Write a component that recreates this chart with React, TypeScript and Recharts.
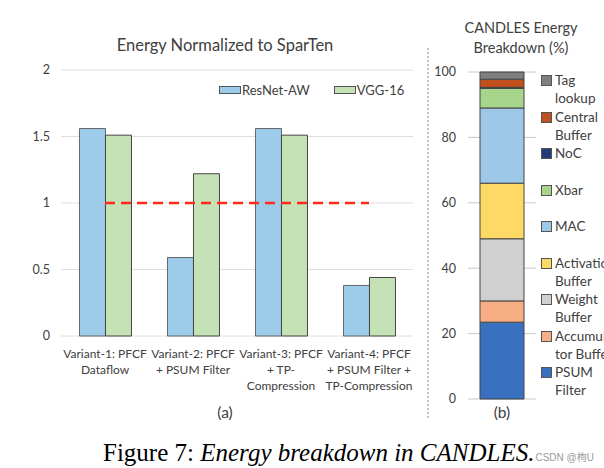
import { Bar, BarChart, CartesianGrid, Legend, ReferenceLine, XAxis, YAxis } from 'recharts'

// (a) energy normalized to SparTen
const VARIANTS = ['Variant-1', 'Variant-2', 'Variant-3', 'Variant-4']
const VARIANT_LABELS = [
  ['Variant-1: PFCF', 'Dataflow'],
  ['Variant-2: PFCF', '+ PSUM Filter'],
  ['Variant-3: PFCF', '+ TP-', 'Compression'],
  ['Variant-4: PFCF', '+ PSUM Filter +', 'TP-Compression'],
]
const RESNET_AW = [1.56, 0.59, 1.56, 0.38]
const VGG_16 = [1.51, 1.22, 1.51, 0.44]
const SPARTEN_BASELINE = 1
const ENERGY_TICKS = [0, 0.5, 1, 1.5, 2]

// (b) CANDLES breakdown, bottom of stack first
const COMPONENTS = ['psum', 'accum', 'weight', 'activation', 'mac', 'xbar', 'noc', 'central', 'tag']
const COMPONENT_NAMES = [
  ['PSUM', 'Filter'],
  ['Accumula', 'tor Buffer'],
  ['Weight', 'Buffer'],
  ['Activation', 'Buffer'],
  ['MAC'],
  ['Xbar'],
  ['NoC'],
  ['Central', 'Buffer'],
  ['Tag', 'lookup'],
]
const SHARES = [23.5, 6.5, 19, 17, 23, 6, 0.3, 2.5, 2.2]
const SHARE_TICKS = [0, 20, 40, 60, 80, 100]

const COMP_COLORS = ['#3a70c0', '#f8ae84', '#d0d0d0', '#ffd966', '#9dc8e8', '#a8d58c', '#1f3c78', '#c0501e', '#7f7f7f']
const RESNET_COLOR = '#9dcbea'
const VGG_COLOR = '#c5e2b6'
const TEXT = '#404040'
const FONT = 'Lato, "Open Sans", sans-serif'

const energyData = VARIANTS.map((v, i) => ({ variant: v, resnet: RESNET_AW[i], vgg: VGG_16[i] }))
const shareRow: Record<string, number | string> = { name: 'CANDLES' }
COMPONENTS.forEach((c, i) => { shareRow[c] = SHARES[i] })

function VariantTick({ x, y, payload }: any) {
  const lines = VARIANT_LABELS[VARIANTS.indexOf(payload.value)] || []
  return (
    <text x={x} y={y} textAnchor="middle" fontSize={12} fill={TEXT} fontFamily={FONT}>
      {lines.map((l, i) => (
        <tspan key={i} x={x} dy={i === 0 ? 14 : 16}>{l}</tspan>
      ))}
    </text>
  )
}

function EnergyLegend() {
  const items = [
    { label: 'ResNet-AW', color: RESNET_COLOR },
    { label: 'VGG-16', color: VGG_COLOR },
  ]
  return (
    <div style={{ display: 'flex', gap: 24, fontFamily: FONT, fontSize: 13, color: TEXT, lineHeight: '16px' }}>
      {items.map((it) => (
        <div key={it.label} style={{ display: 'flex', alignItems: 'center' }}>
          <span style={{ width: 20, height: 6, background: it.color, border: '1px solid #555', marginRight: 1 }} />
          <span>{it.label}</span>
        </div>
      ))}
    </div>
  )
}

function ShareLegend() {
  const order = COMPONENTS.map((_, i) => i).reverse()
  return (
    <div style={{ fontFamily: FONT, fontSize: 13.5, color: TEXT, lineHeight: '18px', whiteSpace: 'nowrap' }}>
      {order.map((i) => (
        <div key={COMPONENTS[i]} style={{ height: 36.5, display: 'flex', alignItems: 'flex-start' }}>
          <span style={{ width: 9, height: 9, marginTop: 4, marginRight: 3, background: COMP_COLORS[i], border: '1px solid #555', flexShrink: 0 }} />
          <span>
            {COMPONENT_NAMES[i].map((l, k) => (
              <div key={k}>{l}</div>
            ))}
          </span>
        </div>
      ))}
    </div>
  )
}

const centered = (x: number, y: number, size: number, w = 300): React.CSSProperties => ({
  position: 'absolute',
  left: x - w / 2,
  top: y - 10,
  width: w,
  lineHeight: '20px',
  textAlign: 'center',
  fontFamily: FONT,
  fontSize: size,
  color: TEXT,
  whiteSpace: 'nowrap',
})

export default function App() {
  return (
    <div style={{ position: 'absolute', left: 0, top: 0, width: 604, height: 468, overflow: 'hidden', background: '#fff' }}>
      <div style={centered(225, 45, 16.5)}>Energy Normalized to SparTen</div>
      <div style={centered(521, 28, 14.5, 200)}>CANDLES Energy</div>
      <div style={centered(521, 48, 14.5, 200)}>Breakdown (%)</div>
      <div style={centered(225, 412, 15.5, 60)}>(a)</div>
      <div style={centered(502, 412, 15.5, 60)}>(b)</div>

      <div style={{ position: 'absolute', left: 0, top: 0 }}>
        <BarChart width={428} height={468} data={energyData} margin={{ top: 70, right: 15, bottom: 72, left: 0 }} barCategoryGap="21%" barGap={0}>
          <CartesianGrid vertical={false} stroke="#dedede" />
          <XAxis dataKey="variant" axisLine={false} tickLine={false} tickSize={0} tickMargin={8} height={60} interval={0} tick={<VariantTick />} />
          <YAxis domain={[0, 2]} ticks={ENERGY_TICKS} width={61} axisLine={false} tickLine={false} tickSize={0} tickMargin={11}
            tick={{ fontSize: 12.5, fill: TEXT, fontFamily: FONT }} />
          <Legend layout="horizontal" verticalAlign="middle" align="center" content={<EnergyLegend />}
            wrapperStyle={{ top: 82, left: 219, width: 200 }} />
          <Bar dataKey="resnet" name="ResNet-AW" fill={RESNET_COLOR} stroke="#666" strokeWidth={1} isAnimationActive={false} />
          <Bar dataKey="vgg" name="VGG-16" fill={VGG_COLOR} stroke="#444" strokeWidth={1} isAnimationActive={false} />
          <ReferenceLine segment={[{ x: 'Variant-1', y: SPARTEN_BASELINE }, { x: 'Variant-4', y: SPARTEN_BASELINE }]}
            stroke="#ff2a1a" strokeWidth={2.5} strokeDasharray="10 6" ifOverflow="visible" />
        </BarChart>
      </div>

      <div style={{ position: 'absolute', left: 427, top: 48, height: 370, borderLeft: '2px dotted #c4c4c4' }} />

      <div style={{ position: 'absolute', left: 428, top: 0 }}>
        <BarChart width={176} height={468} data={[shareRow]} margin={{ top: 72, right: 68, bottom: 69, left: 0 }} barCategoryGap={12}>
          <CartesianGrid vertical={false} stroke="#c8c8c8" />
          <XAxis dataKey="name" hide />
          <YAxis domain={[0, 100]} ticks={SHARE_TICKS} width={40} axisLine={false} tickLine={false} tickSize={0} tickMargin={12}
            tick={{ fontSize: 12.5, fill: TEXT, fontFamily: FONT }} />
          <Legend layout="horizontal" verticalAlign="middle" align="center" content={<ShareLegend />}
            wrapperStyle={{ top: 71, left: 113, width: 90 }} />
          {COMPONENTS.map((c, i) => (
            <Bar key={c} dataKey={c} stackId="e" fill={COMP_COLORS[i]} stroke="#444" strokeWidth={1} isAnimationActive={false} />
          ))}
        </BarChart>
      </div>

      <div style={{ position: 'absolute', left: 103, top: 440, lineHeight: '25px', fontFamily: '"Liberation Serif", serif', fontSize: 25, color: '#000', whiteSpace: 'nowrap' }}>
        Figure 7: <i>Energy breakdown in CANDLES.</i>
        <span style={{ fontFamily: '"Liberation Sans", "Noto Sans CJK SC", sans-serif', fontSize: 10, color: '#9a9a9a', fontStyle: 'normal', marginLeft: 1 }}>CSDN @栒U</span>
      </div>
    </div>
  )
}
